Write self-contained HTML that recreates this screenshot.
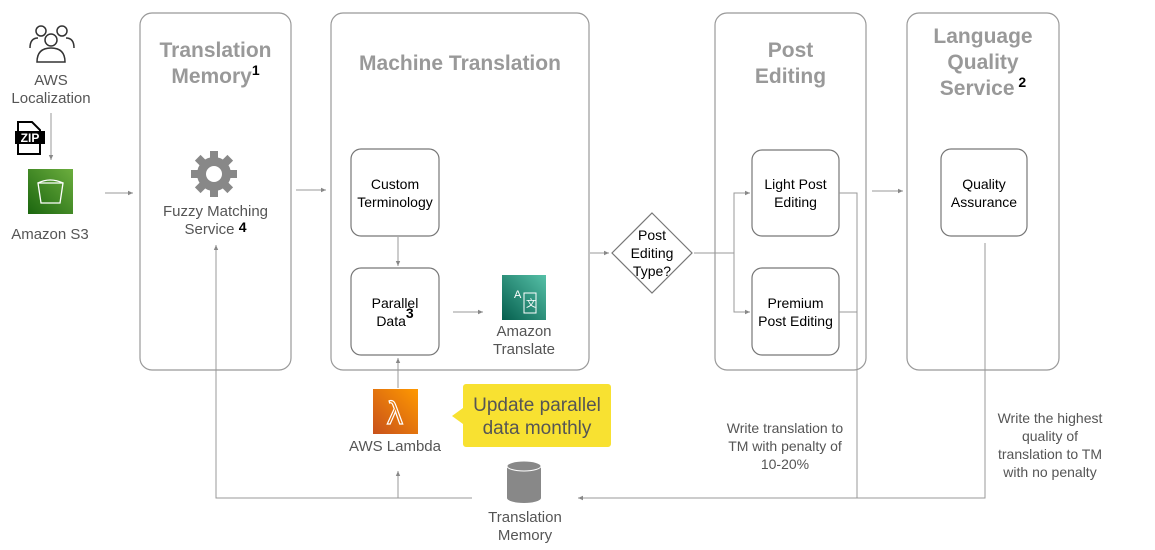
<!DOCTYPE html>
<html><head><meta charset="utf-8"><style>
body{margin:0;width:1155px;height:550px;background:#fff;position:relative;overflow:hidden;font-family:"Liberation Sans",Arial,sans-serif}
.t{position:absolute;text-align:center;color:#555;font-size:15px;line-height:18px}
.h{position:absolute;text-align:center;color:#999;font-weight:bold;font-size:21px;line-height:26px}
.k{color:#000;font-size:14px;font-weight:bold;position:relative;top:-8px;line-height:0}
.b{color:#000;font-size:14px}
</style></head><body>
<svg width="1155" height="550" style="position:absolute;left:0;top:0">
<defs><marker id="a" markerWidth="6" markerHeight="6" refX="5" refY="3" orient="auto"><path d="M0,0.8 L5,3 L0,5.2z" fill="#888"/></marker></defs>
<g fill="none" stroke="#999" stroke-width="1.2">
<rect x="140" y="13" width="151" height="357" rx="12"/>
<rect x="331" y="13" width="258" height="357" rx="12"/>
<rect x="715" y="13" width="151" height="357" rx="12"/>
<rect x="907" y="13" width="152" height="357" rx="12"/>
<rect x="351" y="149" width="88" height="87" rx="10" stroke="#777"/>
<rect x="351" y="268" width="88" height="87" rx="10" stroke="#777"/>
<rect x="752" y="150" width="87" height="86" rx="10" stroke="#777"/>
<rect x="752" y="268" width="87" height="87" rx="10" stroke="#777"/>
<rect x="941" y="149" width="86" height="87" rx="10" stroke="#777"/>
<path d="M652,213 L692,253 L652,293 L612,253z" stroke="#777"/>
</g>
<g fill="none" stroke="#999" stroke-width="1" marker-end="url(#a)">
<path d="M51,113 V160"/>
<path d="M105,193 H133"/>
<path d="M296,190 H326"/>
<path d="M590,253 H609"/>
<path d="M734,253 V193 H750"/>
<path d="M694,253 H734 V312 H750"/>
<path d="M872,191 H903"/>
<path d="M453,312 H483"/>
<path d="M398,237 V266"/>
<path d="M398,388 V358"/>
<path d="M398,498 V471"/>
<path d="M472,498 H216 V245"/>
<path d="M985,243 V498 H578"/>
</g>
<g fill="none" stroke="#999" stroke-width="1">
<path d="M839,193 H857 V498"/>
<path d="M839,312 H857"/>
</g>
<g fill="none" stroke="#333" stroke-width="1.5">
<circle cx="41" cy="31" r="5"/><circle cx="62" cy="31" r="5"/><circle cx="51" cy="40" r="6"/>
<path d="M30,48 q0,-10 8,-10 M74,48 q0,-10 -8,-10 M37,62 q0,-14 14,-14 q14,0 14,14z"/>
</g>
<path d="M18,122 h14 l8,8 v24 h-22z" fill="#fff" stroke="#000" stroke-width="2"/>
<rect x="15" y="131" width="30" height="13" fill="#000"/>
<text x="30" y="142" font-size="12" font-weight="bold" fill="#fff" text-anchor="middle" font-family="Liberation Sans">ZIP</text>
<defs><linearGradient id="g" x1="0" y1="1" x2="1" y2="0"><stop offset="0" stop-color="#1b660f"/><stop offset="1" stop-color="#6cae3e"/></linearGradient>
<linearGradient id="o" x1="0" y1="1" x2="1" y2="0"><stop offset="0" stop-color="#c8511b"/><stop offset="1" stop-color="#f90"/></linearGradient>
<linearGradient id="tg" x1="0" y1="1" x2="1" y2="0"><stop offset="0" stop-color="#055f4e"/><stop offset="1" stop-color="#56c0a7"/></linearGradient></defs>
<rect x="28" y="169" width="45" height="45" fill="url(#g)"/>
<path d="M38,183 h25 l-3,20 h-19z M38,183 q12,-6 25,0" fill="none" stroke="#fff" stroke-width="1.3"/>
<g transform="translate(214,174)" fill="#888">
<circle r="17"/>
<g><rect x="-4" y="-23" width="8" height="46"/><rect x="-4" y="-23" width="8" height="46" transform="rotate(45)"/><rect x="-4" y="-23" width="8" height="46" transform="rotate(90)"/><rect x="-4" y="-23" width="8" height="46" transform="rotate(135)"/></g>
<circle r="8" fill="#fff"/>
</g>
<rect x="502" y="275" width="44" height="45" fill="url(#tg)"/>
<text x="514" y="298" font-size="11" fill="#fff" font-family="Liberation Sans">A</text>
<rect x="524" y="293" width="12" height="20" fill="none" stroke="#fff"/>
<text x="526" y="307" font-size="10" fill="#fff" font-family="Liberation Sans">文</text>
<rect x="373" y="389" width="45" height="45" fill="url(#o)"/>
<text x="395" y="424" font-size="32" fill="none" stroke="#fff" stroke-width="1.2" text-anchor="middle" font-family="Liberation Sans">λ</text>
<path d="M466,384 h142 a3,3 0 0 1 3,3 v57 a3,3 0 0 1 -3,3 h-142 a3,3 0 0 1 -3,-3 v-20 l-11,-8 l11,-8 v-21 a3,3 0 0 1 3,-3z" fill="#f8e131"/>
<path d="M507,466 v32 a17,5 0 0 0 34,0 v-32z" fill="#888"/>
<ellipse cx="524" cy="466" rx="17" ry="5" fill="#888" stroke="#fff" stroke-width="1"/>
</svg>
<div class="t" style="left:0;top:72px;width:102px">AWS<br>Localization</div>
<div class="t" style="left:0;top:226px;width:100px">Amazon S3</div>
<div class="h" style="left:140px;top:38px;width:151px">Translation<br>Memory<span class="k">1</span></div>
<div class="h" style="left:331px;top:51px;width:258px">Machine Translation</div>
<div class="h" style="left:715px;top:38px;width:151px">Post<br>Editing</div>
<div class="h" style="left:907px;top:24px;width:152px">Language<br>Quality<br>Service<span class="k"> 2</span></div>
<div class="t" style="left:140px;top:203px;width:151px">Fuzzy Matching<br>Service <b class="k" style="top:-2px">4</b></div>
<div class="t b" style="left:351px;top:175px;width:88px">Custom<br>Terminology</div>
<div class="t b" style="left:351px;top:294px;width:88px">Parallel<br>Data<span class="k">3</span></div>
<div class="t" style="left:474px;top:323px;width:100px">Amazon<br>Translate</div>
<div class="t b" style="left:612px;top:226px;width:80px">Post<br>Editing<br>Type?</div>
<div class="t b" style="left:752px;top:175px;width:87px">Light Post<br>Editing</div>
<div class="t b" style="left:752px;top:294px;width:87px">Premium<br>Post Editing</div>
<div class="t b" style="left:941px;top:175px;width:86px">Quality<br>Assurance</div>
<div class="t" style="left:340px;top:438px;width:110px">AWS Lambda</div>
<div class="t" style="left:463px;top:394px;width:148px;font-size:19px;line-height:23px;color:#555">Update parallel<br>data monthly</div>
<div class="t" style="left:710px;top:419px;width:150px;font-size:14px">Write translation to<br>TM with penalty of<br>10-20%</div>
<div class="t" style="left:980px;top:409px;width:140px;font-size:14px">Write the highest<br>quality of<br>translation to TM<br>with no penalty</div>
<div class="t" style="left:470px;top:509px;width:110px">Translation<br>Memory</div>
</body></html>
